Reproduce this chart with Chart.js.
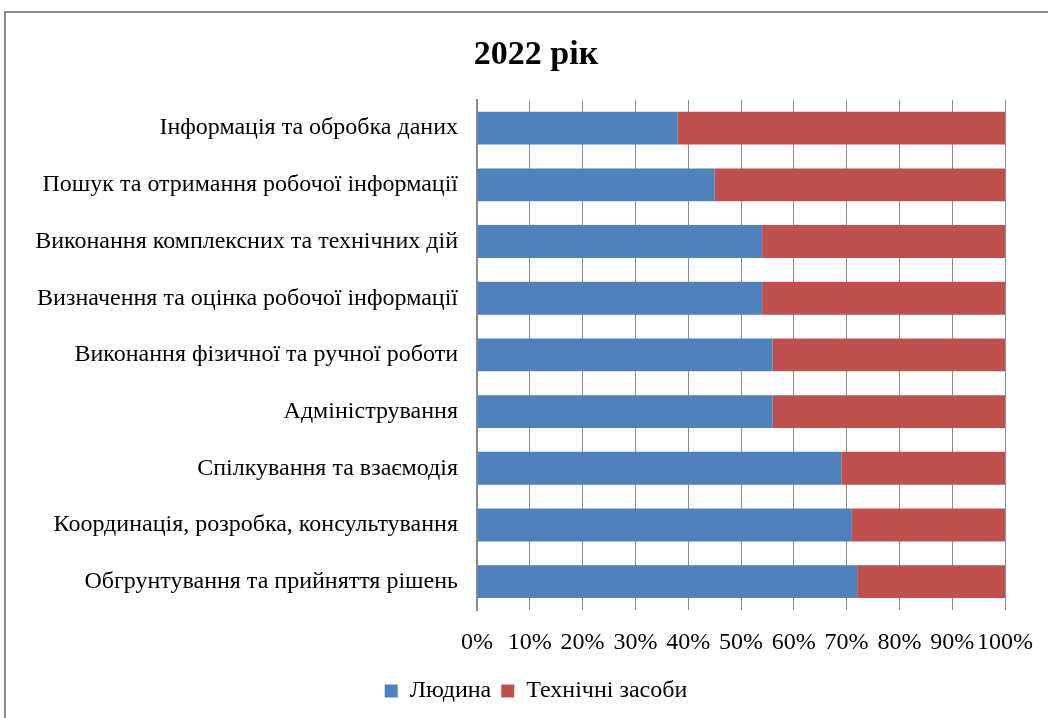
<!DOCTYPE html>
<html>
<head>
<meta charset="utf-8">
<script src="https://cdn.jsdelivr.net/npm/chart.js@4"></script>
<style>
    html, body { margin: 0; padding: 0; background: #fff; }
    #wrap { position: relative; width: 1048px; height: 718px; overflow: hidden; }
    #frame {
        position: absolute; left: 4px; top: 11px; width: 1100px; height: 760px;
        border: 2px solid #8a8a8a; box-sizing: border-box;
    }
    #chart { position: absolute; left: 0; top: 0; }
</style>
</head>
<body>
<div id="wrap">
    <div id="frame"></div>
    <canvas id="chart" width="1048" height="718"></canvas>
</div>
<script>
// Chart data
const categories = [
    'Інформація та обробка даних',
    'Пошук та отримання робочої інформації',
    'Виконання комплексних та технічних дій',
    'Визначення та оцінка робочої інформації',
    'Виконання фізичної та ручної роботи',
    'Адміністрування',
    'Спілкування та взаємодія',
    'Координація, розробка, консультування',
    'Обгрунтування та прийняття рішень'
];
const humanValues = [38, 45, 54, 54, 56, 56, 69, 71, 72];
const techValues = [62, 55, 46, 46, 44, 44, 31, 29, 28];
const seriesNames = ['Людина', 'Технічні засоби'];
const chartTitle = '2022 рік';

const serif = "'Liberation Serif', 'Times New Roman', serif";

// long category labels overflow the y scale box, so widen its clip area
const unclipLabels = {
    id: 'unclipLabels',
    afterLayout: function(chart) {
        chart.scales.y.left = 0;
    }
};

document.addEventListener('DOMContentLoaded', function() {
    const ctx = document.getElementById('chart');

    new Chart(ctx, {
        type: 'bar',
        data: {
            labels: categories,
            datasets: [
                {
                    label: seriesNames[0],
                    data: humanValues,
                    backgroundColor: '#4F81BD',
                    barPercentage: 0.58,
                    categoryPercentage: 1.0
                },
                {
                    label: seriesNames[1],
                    data: techValues,
                    backgroundColor: '#C0504D',
                    barPercentage: 0.58,
                    categoryPercentage: 1.0
                }
            ]
        },
        plugins: [unclipLabels],
        options: {
            indexAxis: 'y',
            responsive: false,
            animation: false,
            devicePixelRatio: 1,
            layout: { padding: { left: 67, right: 43, top: 0, bottom: 5 } },
            plugins: {
                title: {
                    display: true,
                    text: chartTitle,
                    color: '#000',
                    font: { family: serif, size: 34, weight: 'bold' },
                    padding: { top: 35, bottom: 24 }
                },
                legend: {
                    position: 'bottom',
                    labels: {
                        color: '#000',
                        font: { family: serif, size: 24 },
                        boxWidth: 13,
                        boxHeight: 13,
                        padding: 10
                    }
                },
                tooltip: { enabled: false }
            },
            scales: {
                x: {
                    stacked: true,
                    min: 0,
                    max: 100,
                    ticks: {
                        stepSize: 10,
                        autoSkip: false,
                        color: '#000',
                        font: { family: serif, size: 24 },
                        padding: 18,
                        maxRotation: 0,
                        callback: function(v) { return v + '%'; }
                    },
                    grid: { color: '#8c8c8c', lineWidth: 1, drawTicks: false },
                    border: { display: false },
                    afterFit: function(scale) {
                        scale.height = 59;
                        scale.paddingLeft = 0;
                        scale.paddingRight = 0;
                    }
                },
                y: {
                    stacked: true,
                    ticks: {
                        color: '#000',
                        font: { family: serif, size: 24 },
                        padding: 11
                    },
                    grid: { display: false },
                    border: { display: true, color: '#8c8c8c', width: 2 },
                    afterFit: function(scale) { scale.width = 410; }
                }
            }
        }
    });
});
</script>
</body>
</html>
